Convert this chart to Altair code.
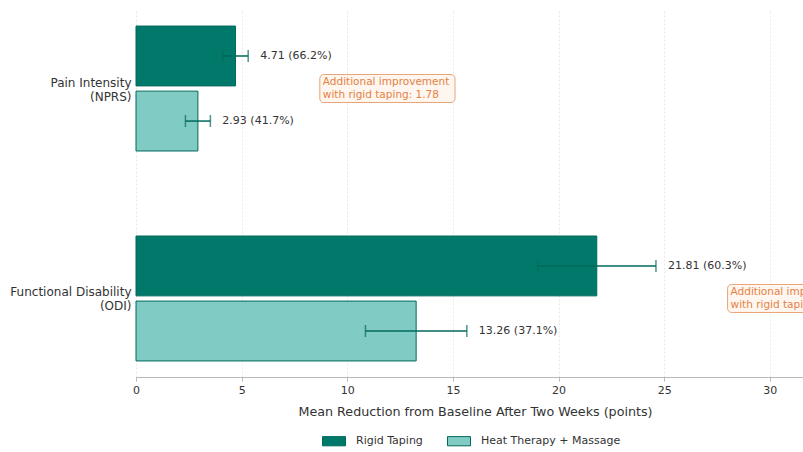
import altair as alt
import pandas as pd

measures = ["Pain Intensity\n(NPRS)", "Functional Disability\n(ODI)"]
groups = ["Rigid Taping", "Heat Therapy + Massage"]
rigid_mean = [4.71, 21.81]
rigid_err = [0.60, 2.80]
rigid_pct = [66.2, 60.3]
heat_mean = [2.93, 13.26]
heat_err = [0.59, 2.40]
heat_pct = [41.7, 37.1]
anno_x = [8.7, 28.0]
anno_w = 6.4

rows = []
for i, m in enumerate(measures):
    for g, mean, err, pct in [
        (groups[0], rigid_mean[i], rigid_err[i], rigid_pct[i]),
        (groups[1], heat_mean[i], heat_err[i], heat_pct[i]),
    ]:
        rows.append({
            "measure": m, "group": g, "mean": mean,
            "lo": mean - err, "hi": mean + err,
            "label": f"{mean:.2f} ({pct:.1f}%)",
        })
df = pd.DataFrame(rows)

anno = pd.DataFrame({
    "measure": measures,
    "x": anno_x,
    "x2": [a + anno_w for a in anno_x],
    "text": [f"Additional improvement\nwith rigid taping: {r - h:.2f}"
             for r, h in zip(rigid_mean, heat_mean)],
})

FONT = "DejaVu Sans"
xscale = alt.Scale(domain=[0, 31.57], nice=False, zero=True)
yscale = alt.Scale(domain=measures, paddingInner=0.405, paddingOuter=0.0765)
yoff = alt.YOffset("group:N", sort=groups, scale=alt.Scale(domain=groups, paddingInner=0.08, paddingOuter=0))

y_enc = alt.Y("measure:N", sort=measures, scale=yscale,
              axis=alt.Axis(title=None, labelExpr="split(datum.label, '\\n')",
                            ticks=False, domain=False, labelPadding=5, labelOffset=-6,
                            labelFontSize=12, labelColor="#333", labelFont=FONT,
                            labelLineHeight=14))

bars = alt.Chart(df).mark_bar(stroke="#00695C", strokeWidth=1).encode(
    x=alt.X("mean:Q", scale=xscale,
            axis=alt.Axis(title="Mean Reduction from Baseline After Two Weeks (points)",
                          values=[0, 5, 10, 15, 20, 25, 30], format="d",
                          grid=True, gridDash=[2, 2], gridColor="#e8e8e8",
                          domainColor="#b8b8b8", tickColor="#b8b8b8", tickSize=4,
                          labelFontSize=11, labelColor="#333", labelFont=FONT,
                          labelPadding=3, labelFlush=False,
                          titleFontSize=12.7, titleFontWeight="normal", titleColor="#333",
                          titleFont=FONT, titlePadding=10, titleX=339, titleAnchor="middle")),
    y=y_enc,
    yOffset=yoff,
    color=alt.Color("group:N", sort=groups,
                    scale=alt.Scale(domain=groups, range=["#00796B", "#80CBC4"]),
                    legend=alt.Legend(title=None, orient="none", legendX=186, legendY=419,
                                      direction="horizontal",
                                      symbolType="M-1,-0.4L1,-0.4L1,0.4L-1,0.4Z",
                                      symbolSize=529, symbolStrokeColor="#00695C",
                                      symbolStrokeWidth=1, symbolOpacity=1,
                                      labelFontSize=11, labelColor="#333", labelFont=FONT,
                                      labelOffset=10, columnPadding=22)),
)

rules = alt.Chart(df).mark_rule(color="#00695C", strokeWidth=1.5).encode(
    x="lo:Q", x2="hi:Q", y=alt.Y("measure:N", sort=measures), yOffset=yoff)

caps_lo = alt.Chart(df).mark_tick(color="#00695C", thickness=1.5, size=12, orient="vertical").encode(
    x="lo:Q", y=alt.Y("measure:N", sort=measures), yOffset=yoff)
caps_hi = alt.Chart(df).mark_tick(color="#00695C", thickness=1.5, size=12, orient="vertical").encode(
    x="hi:Q", y=alt.Y("measure:N", sort=measures), yOffset=yoff)

labels = alt.Chart(df).mark_text(align="left", baseline="middle", dx=12,
                                 fontSize=11, font=FONT, color="#333").encode(
    x="hi:Q", y=alt.Y("measure:N", sort=measures), yOffset=yoff, text="label:N")

box = alt.Chart(anno).mark_bar(size=28, fill="#FFF6EF", stroke="#E8A57A",
                               strokeWidth=1, cornerRadius=4).encode(
    x="x:Q", x2="x2:Q", y=alt.Y("measure:N", sort=measures))

anno_text = alt.Chart(anno).mark_text(align="left", baseline="middle", dx=3, dy=-6.5,
                                      fontSize=10.5, font=FONT, color="#E38245",
                                      lineBreak="\n", lineHeight=13).encode(
    x="x:Q", y=alt.Y("measure:N", sort=measures), text="text:N")

chart = alt.layer(bars, rules, caps_lo, caps_hi, labels, box, anno_text).resolve_scale(
    yOffset="shared").properties(
    width=667, height=367,
    autosize=alt.AutoSizeParams(type="none"),
    padding={"left": 136, "top": 10, "right": 0, "bottom": 75},
    background="white",
).configure_view(strokeWidth=0, stroke="transparent")

chart.save("out.html", embed_options={"renderer": "svg", "actions": False})
